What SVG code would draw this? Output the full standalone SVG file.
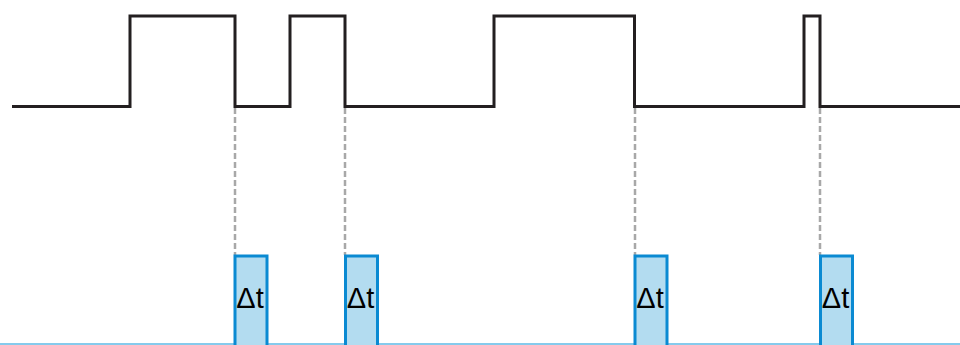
<svg xmlns="http://www.w3.org/2000/svg" width="960" height="345" viewBox="0 0 960 345">
<style>
.sig{fill:none;stroke:#231f20;stroke-width:3;stroke-linejoin:miter}
.dash{stroke:#a8a8a8;stroke-width:2.5;stroke-dasharray:6 3}
.box{fill:#b3dcf0;stroke:#0a8ad2;stroke-width:3}
.lbl{font-family:"Liberation Sans",Arial,sans-serif;font-size:29px;fill:#000;text-anchor:middle}
</style>
<rect width="960" height="345" fill="#fff"/>
<g id="connectors">
<line class="dash" x1="235" y1="108" x2="235" y2="255"/>
<line class="dash" x1="345" y1="108" x2="345" y2="255"/>
<line class="dash" x1="635" y1="108" x2="635" y2="255"/>
<line class="dash" x1="820" y1="108" x2="820" y2="255"/>
</g>
<g id="signal">
<path class="sig" d="M12 106.5 H130 V16 H235 V106.5 H290 V16 H345 V106.5 H494 V16 H634.5 V106.5 H804 V16 H820 V106.5 H960"/>
</g>
<g id="baseline">
<line x1="0" y1="344" x2="960" y2="344" stroke="#5cb8e6" stroke-width="1.5"/>
</g>
<g id="pulse1">
<rect class="box" x="235" y="256" width="32" height="95"/>
<text class="lbl" x="250" y="308">Δt</text>
</g>
<g id="pulse2">
<rect class="box" x="345.5" y="256" width="32" height="95"/>
<text class="lbl" x="360.5" y="308">Δt</text>
</g>
<g id="pulse3">
<rect class="box" x="635" y="256" width="32" height="95"/>
<text class="lbl" x="650" y="308">Δt</text>
</g>
<g id="pulse4">
<rect class="box" x="820.5" y="256" width="32" height="95"/>
<text class="lbl" x="835.5" y="308">Δt</text>
</g>
</svg>
